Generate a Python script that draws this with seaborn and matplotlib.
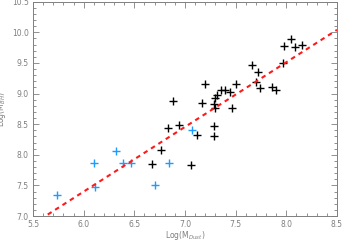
import numpy as np
import pandas as pd
import seaborn as sns
from matplotlib import pyplot as plt
from matplotlib.ticker import MultipleLocator

### Data ###
black_dust = [6.67, 6.76, 6.83, 6.94, 7.06, 7.12, 7.29, 7.29, 6.88, 7.17, 7.29,
              7.30, 7.46, 7.32, 7.30, 7.44, 7.36, 7.39, 7.20, 7.50, 7.66, 7.72,
              7.70, 7.74, 7.86, 7.90, 7.97, 7.98, 8.05, 8.09, 8.15]
black_bh = [7.85, 8.08, 8.43, 8.48, 7.84, 8.32, 8.47, 8.31, 8.87, 8.85, 8.83,
            8.76, 8.76, 8.97, 8.93, 9.02, 9.06, 9.06, 9.15, 9.16, 9.47, 9.35,
            9.19, 9.09, 9.11, 9.05, 9.50, 9.77, 9.89, 9.76, 9.80]
blue_dust = [5.74, 6.10, 6.11, 6.32, 6.39, 6.47, 6.70, 6.84, 7.07]
blue_bh = [7.35, 7.87, 7.47, 8.06, 7.87, 7.87, 7.50, 7.87, 8.41]
fit_x = [5.5, 8.5]
fit_y = [6.87, 10.04]

df_black = pd.DataFrame({'dust': black_dust, 'bh': black_bh})
df_blue = pd.DataFrame({'dust': blue_dust, 'bh': blue_bh})
df_fit = pd.DataFrame({'dust': fit_x, 'bh': fit_y})

sns.set_theme(style='white')
plt.rcParams['font.family'] = ['DejaVu Sans']
grey = '#7f7f7f'

fig = plt.figure(figsize=(3.43, 2.40), dpi=100)
ax = fig.add_axes([0.0962, 0.10, 0.8863, 0.893])

sns.scatterplot(x='dust', y='bh', data=df_black, marker='+', color='black',
                s=28, linewidth=1.0, ax=ax, zorder=3)
sns.scatterplot(x='dust', y='bh', data=df_blue, marker='+', color='#1e9bff',
                s=28, linewidth=1.0, ax=ax, zorder=3)
sns.lineplot(x='dust', y='bh', data=df_fit, color='#ff1a1a', lw=1.5,
             dashes=False, ax=ax, zorder=4)
ax.lines[-1].set_dashes([2.2, 2.0])

ax.set_xlim(5.5, 8.5)
ax.set_ylim(7.0, 10.5)
ax.xaxis.set_major_locator(MultipleLocator(0.5))
ax.xaxis.set_minor_locator(MultipleLocator(0.1))
ax.yaxis.set_major_locator(MultipleLocator(0.5))
ax.yaxis.set_minor_locator(MultipleLocator(0.1))
ax.tick_params(which='both', direction='in', top=True, right=True,
               bottom=True, left=True, color=grey, labelcolor=grey,
               labelsize=5.5, width=0.6, pad=3)
ax.tick_params(which='major', length=4)
ax.tick_params(which='minor', length=2)
for sp in ax.spines.values():
    sp.set_color(grey)
    sp.set_linewidth(0.7)

ax.set_xlabel('Log(M$_{Dust}$)', fontsize=5.5, color=grey, labelpad=0)
ax.set_ylabel('Log(M$_{BH}$)', fontsize=5.5, color=grey, labelpad=3)

plt.savefig('out.png', dpi=100)
